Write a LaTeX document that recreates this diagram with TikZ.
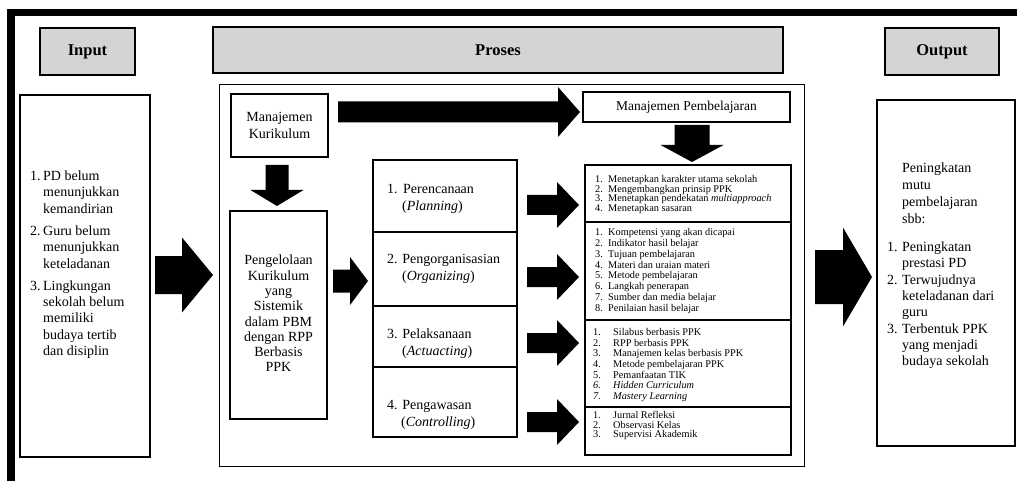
\documentclass[tikz,border=0pt]{standalone}
\usepackage{fontspec}
\setmainfont{Liberation Serif}
\newcommand{\RA}[6]{\fill (#1,#4-#5) -- (#2,#4-#5) -- (#2,#4-#6) -- (#3,#4) -- (#2,#4+#6) -- (#2,#4+#5) -- (#1,#4+#5) -- cycle;}
\newcommand{\DA}[6]{\fill (#1-#5,#2) -- (#1-#5,#3) -- (#1-#6,#3) -- (#1,#4) -- (#1+#6,#3) -- (#1+#5,#3) -- (#1+#5,#2) -- cycle;}
\newcommand{\li}[2]{\makebox[13pt][l]{#1}#2}
\newcommand{\ct}{\hspace*{13pt}}
\newcommand{\lo}[2]{\makebox[15pt][l]{#1}#2}
\newcommand{\co}{\hspace*{15pt}}
\newcommand{\lj}[2]{\makebox[13pt][l]{#1}#2}
\newcommand{\lk}[2]{\makebox[20pt][l]{#1}#2}
\begin{document}
\begin{tikzpicture}[x=1pt,y=-1pt,
  box/.style={draw, line width=1.1pt, inner sep=0pt, anchor=center},
  thinbox/.style={draw, line width=0.7pt, inner sep=0pt, anchor=center},
  head/.style={box, fill=black!17, font=\fontsize{16.5}{18}\selectfont\bfseries},
  txt/.style={inner sep=0pt, align=left, font=\fontsize{14}{16.3}\selectfont},
  ctxt/.style={inner sep=0pt, align=center, font=\fontsize{14}{15.3}\selectfont},
  small/.style={inner sep=0pt, align=left}]
\useasboundingbox (0,0) rectangle (1017,481);
% frame
\fill (8,9) rectangle (1017,16);
\fill (7,9) rectangle (15,481);
% headers
\node[head, minimum width=95pt, minimum height=47pt] (inhead) at (87.5,51.5) {Input};
\node[head, minimum width=570pt, minimum height=46pt] (prhead) at (498,50) {Proses};
\node[head, minimum width=114pt, minimum height=47pt] (outhead) at (942,51.5) {Output};
% input
\node[box, minimum width=130pt, minimum height=362pt] (inbox) at (85,276) {};
\node[txt, anchor=north west] (intext) at (30,170.6) {\li{1.}{PD belum}\\\ct menunjukkan\\\ct kemandirian\\[6pt]\li{2.}{Guru belum}\\\ct menunjukkan\\\ct keteladanan\\[6pt]\li{3.}{Lingkungan}\\\ct sekolah belum\\\ct memiliki\\\ct budaya tertib\\\ct dan disiplin};
% proses
\node[thinbox, minimum width=585pt, minimum height=382pt] (proses) at (511.5,275) {};
\node[box, minimum width=97pt, minimum height=63pt, align=center, font=\fontsize{14}{17}\selectfont] (mk) at (279.5,125.5) {Manajemen\\Kurikulum};
\node[box, minimum width=207pt, minimum height=30pt, font=\fontsize{13.5}{15}\selectfont] (mp) at (686.5,107) {Manajemen Pembelajaran};
\node[box, minimum width=97pt, minimum height=208pt] (pk) at (278.5,315) {};
\node[ctxt] (pktext) at (278.5,313.5) {Pengelolaan\\Kurikulum\\yang\\Sistemik\\dalam PBM\\dengan RPP\\Berbasis\\PPK};
% column 2
\node[box, minimum width=144pt, minimum height=72pt] (c2a) at (445,196) {};
\node[box, minimum width=144pt, minimum height=74pt] (c2b) at (445,269) {};
\node[box, minimum width=144pt, minimum height=61pt] (c2c) at (445,336.5) {};
\node[box, minimum width=144pt, minimum height=70pt] (c2d) at (445,402) {};
\node[txt, anchor=west, font=\fontsize{14}{17}\selectfont] (t2a) at (387,198.5) {\makebox[16pt][l]{1.}Perencanaan\\\hspace*{15pt}(\textit{Planning})};
\node[txt, anchor=west, font=\fontsize{14}{17}\selectfont] (t2b) at (387,269) {2. Pengorganisasian\\\hspace*{15pt}(\textit{Organizing})};
\node[txt, anchor=west, font=\fontsize{14}{17}\selectfont] (t2c) at (387,343.5) {3. Pelaksanaan\\\hspace*{15pt}(\textit{Actuacting})};
\node[txt, anchor=west, font=\fontsize{14}{17}\selectfont] (t2d) at (387,415) {4. Pengawasan\\\hspace*{14pt}(\textit{Controlling})};
% column 3
\node[box, minimum width=206pt, minimum height=57pt] (c3a) at (688,193.5) {};
\node[box, minimum width=206pt, minimum height=98pt] (c3b) at (688,271) {};
\node[box, minimum width=206pt, minimum height=87pt] (c3c) at (688,363.5) {};
\node[box, minimum width=206pt, minimum height=48pt] (c3d) at (688,431) {};
\node[small, anchor=west, font=\fontsize{10.3}{9.7}\selectfont] (t3a) at (595,194.5) {\lj{1.}{Menetapkan karakter utama sekolah}\\\lj{2.}{Mengembangkan prinsip PPK}\\\lj{3.}{Menetapkan pendekatan \textit{multiapproach}}\\\lj{4.}{Menetapkan sasaran}};
\node[small, anchor=west, font=\fontsize{10.3}{10.9}\selectfont] (t3b) at (595,271) {\lj{1.}{Kompetensi yang akan dicapai}\\\lj{2.}{Indikator hasil belajar}\\\lj{3.}{Tujuan pembelajaran}\\\lj{4.}{Materi dan uraian materi}\\\lj{5.}{Metode pembelajaran}\\\lj{6.}{Langkah penerapan}\\\lj{7.}{Sumber dan media belajar}\\\lj{8.}{Penilaian hasil belajar}};
\node[small, anchor=west, font=\fontsize{10.3}{10.7}\selectfont] (t3c) at (593,365) {\lk{1.}{Silabus berbasis PPK}\\\lk{2.}{RPP berbasis PPK}\\\lk{3.}{Manajemen kelas berbasis PPK}\\\lk{4.}{Metode pembelajaran PPK}\\\lk{5.}{Pemanfaatan TIK}\\\lk{\textit{6.}}{\textit{Hidden Curriculum}}\\\lk{\textit{7.}}{\textit{Mastery Learning}}};
\node[small, anchor=west, font=\fontsize{10.3}{9.5}\selectfont] (t3d) at (593,425.5) {\lk{1.}{Jurnal Refleksi}\\\lk{2.}{Observasi Kelas}\\\lk{3.}{Supervisi Akademik}};
% output
\node[box, minimum width=138pt, minimum height=346pt] (outbox) at (946,273) {};
\node[txt, anchor=north west, font=\fontsize{14}{16}\selectfont] (outtext) at (887,162.6) {\co Peningkatan\\[1pt]\co mutu\\[1pt]\co pembelajaran\\[1pt]\co sbb:\\[12pt]\lo{1.}{Peningkatan}\\\co prestasi PD\\[1pt]\lo{2.}{Terwujudnya}\\\co keteladanan dari\\\co guru\\[1pt]\lo{3.}{Terbentuk PPK}\\\co yang menjadi\\\co budaya sekolah};
% block arrows
\RA{155}{182}{213}{275}{19}{37.5}
\RA{815}{843}{872}{277}{27}{49.5}
\RA{338}{558}{580}{112}{10.5}{25}
\DA{277}{165}{190}{206}{11.5}{26.5}
\DA{692}{125}{145}{162}{17.5}{31.5}
\RA{333}{350}{368}{281}{11.5}{24}
\RA{527}{557}{579}{205}{10}{23}
\RA{527}{557}{579}{277}{10}{23}
\RA{527}{557}{579}{343}{10}{23}
\RA{527}{557}{579}{422}{10}{23}
\end{tikzpicture}
\end{document}
